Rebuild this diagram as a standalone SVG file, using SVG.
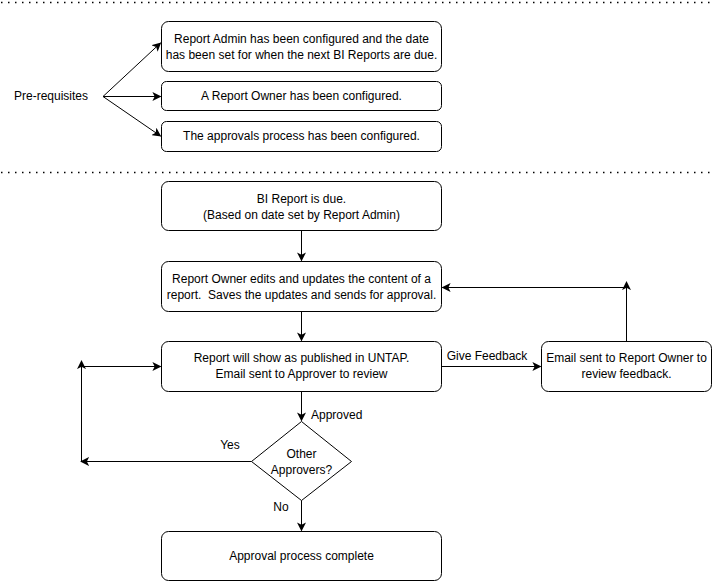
<svg xmlns="http://www.w3.org/2000/svg" width="714" height="582" viewBox="0 0 714 582">
<defs>
<marker id="arr" viewBox="0 0 10 10" refX="9" refY="5" markerWidth="9" markerHeight="9" markerUnits="userSpaceOnUse" orient="auto">
<path d="M0,0 L10,5 L0,10 L2.5,5 Z" fill="#000"/>
</marker>
<style>
.box{fill:#fff;stroke:#000;stroke-width:1}
.t{font-family:"Liberation Sans",Arial,sans-serif;font-size:12px;fill:#000;text-anchor:middle}
.tl{font-family:"Liberation Sans",Arial,sans-serif;font-size:12px;fill:#000}
.e{fill:none;stroke:#000;stroke-width:1;marker-end:url(#arr)}
.dot{stroke:#000;stroke-width:1.5;stroke-dasharray:1.5 5.5}
</style>
</defs>
<rect width="714" height="582" fill="#fff"/>
<line class="dot" x1="1" y1="2.5" x2="714" y2="2.5"/>
<line class="dot" x1="1" y1="172.5" x2="714" y2="172.5"/>

<g id="prereq"><text class="t" x="51" y="100">Pre-requisites</text></g>
<g id="pre1"><rect class="box" x="161.5" y="21.5" width="280" height="50" rx="7"/>
<text class="t" x="301.5" y="43">Report Admin has been configured and the date</text>
<text class="t" x="301.5" y="59">has been set for when the next BI Reports are due.</text></g>
<g id="pre2"><rect class="box" x="161.5" y="81.5" width="280" height="29" rx="5"/>
<text class="t" x="301.5" y="100">A Report Owner has been configured.</text></g>
<g id="pre3"><rect class="box" x="161.5" y="121.5" width="280" height="30" rx="5"/>
<text class="t" x="301.5" y="140">The approvals process has been configured.</text></g>

<g id="due"><rect class="box" x="161.5" y="181.5" width="280" height="49" rx="7"/>
<text class="t" x="301.5" y="203">BI Report is due.</text>
<text class="t" x="301.5" y="219">(Based on date set by Report Admin)</text></g>
<g id="edit"><rect class="box" x="161.5" y="261.5" width="280" height="50" rx="7"/>
<text class="t" x="301.5" y="283">Report Owner edits and updates the content of a</text>
<text class="t" x="301.5" y="299" xml:space="preserve">report.  Saves the updates and sends for approval.</text></g>
<g id="publish"><rect class="box" x="161.5" y="341.5" width="280" height="50" rx="7"/>
<text class="t" x="301.5" y="362">Report will show as published in UNTAP.</text>
<text class="t" x="301.5" y="378">Email sent to Approver to review</text></g>
<g id="email"><rect class="box" x="541.5" y="341.5" width="170" height="50" rx="7"/>
<text class="t" x="626.5" y="362">Email sent to Report Owner to</text>
<text class="t" x="626.5" y="378">review feedback.</text></g>
<g id="decision"><path class="box" d="M301.5,421.5 L351.5,461.5 L301.5,500.5 L251.5,461.5 Z"/>
<text class="t" x="301.5" y="458">Other</text>
<text class="t" x="301.5" y="474">Approvers?</text></g>
<g id="complete"><rect class="box" x="161.5" y="531.5" width="280" height="49" rx="7"/>
<text class="t" x="301.5" y="560">Approval process complete</text></g>

<g id="connectors">
<line class="e" x1="103" y1="96.5" x2="160.5" y2="43"/>
<line class="e" x1="103" y1="96.5" x2="160.5" y2="96.5"/>
<line class="e" x1="103" y1="96.5" x2="160.5" y2="136"/>
<line class="e" x1="301.5" y1="230.5" x2="301.5" y2="260.5"/>
<line class="e" x1="301.5" y1="311.5" x2="301.5" y2="340.5"/>
<line class="e" x1="301.5" y1="391.5" x2="301.5" y2="420.5"/>
<text class="tl" x="311" y="419">Approved</text>
<line class="e" x1="441.5" y1="366.5" x2="540.5" y2="366.5"/>
<text class="t" x="487" y="360">Give Feedback</text>
<line class="e" x1="626.5" y1="341.5" x2="626.5" y2="282"/>
<line class="e" x1="626.5" y1="287.5" x2="442.5" y2="287.5"/>
<line class="e" x1="251.5" y1="461.5" x2="81" y2="461.5"/>
<text class="t" x="230" y="449">Yes</text>
<line class="e" x1="81.5" y1="461.5" x2="81.5" y2="361"/>
<line class="e" x1="81.5" y1="366.5" x2="160.5" y2="366.5"/>
<line class="e" x1="301.5" y1="500.5" x2="301.5" y2="530.5"/>
<text class="t" x="281" y="511">No</text>
</g>
</svg>
